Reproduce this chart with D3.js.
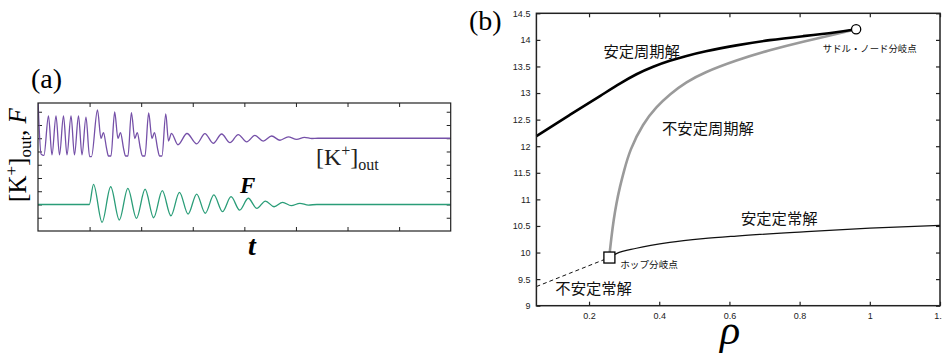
<!DOCTYPE html>
<html><head><meta charset="utf-8">
<script src="https://cdn.jsdelivr.net/npm/d3@7"></script>
<style>body{margin:0;background:#fff}svg{display:block}</style>
</head><body>
<svg id="c" width="942" height="353"></svg>
<script>
// ---------- Panel (a): time series ----------
const kTime = [0.000,0.060,0.115,0.203,0.271,0.349,0.417,0.494,0.562,0.640,0.707,0.785,0.853,0.930,1.000,1.037,1.153,1.221,1.269,1.328,1.366,1.415,1.486,1.550,1.599,1.657,1.696,1.744,1.810,1.876,1.924,1.983,2.025,2.074,2.145,2.209,2.258,2.316,2.355,2.403,2.477,2.529,2.587,2.713,2.888,3.076,3.236,3.397,3.560,3.721,3.882,4.045,4.205,4.366,4.529,4.690,4.851,5.014,5.165,5.310,5.426,8.000];
const kValue = [9.90,5.80,5.70,8.68,5.74,8.68,5.74,8.68,5.74,8.68,5.74,8.68,5.74,8.60,5.62,5.62,9.13,6.98,7.43,6.26,5.66,5.66,8.98,6.98,7.43,6.26,5.66,5.66,8.94,6.98,7.43,6.26,5.66,5.66,8.91,6.98,7.43,6.26,5.66,5.66,8.83,6.79,7.37,6.51,7.36,6.58,7.35,6.62,7.32,6.67,7.28,6.73,7.22,6.79,7.17,6.85,7.11,6.91,7.06,6.98,7.00,7.00];
const fTime = [0,0.995,1.076,1.242,1.409,1.576,1.742,1.909,2.076,2.242,2.409,2.576,2.742,2.909,3.076,3.242,3.409,3.576,3.742,3.909,4.076,4.242,4.409,4.576,4.742,4.909,5.076,5.242,5.407,8];
const fValue = [2,2,3.52,0.66,3.34,0.83,3.22,0.96,3.15,1.00,3.04,1.15,2.92,1.28,2.79,1.34,2.72,1.46,2.59,1.58,2.47,1.71,2.26,1.83,2.16,1.91,2.09,1.96,2.0,2.0];
const aXTicks = [1,2,3,4,5,6,7];
const aYTicks = [1,2,3,4,5,6,7,8,9];

// ---------- Panel (b): bifurcation diagram ----------
const spRho = [0.05,0.145,0.240,0.288,0.335,0.383,0.430,0.478,0.525,0.620,0.715,0.810,0.905,0.961];
const spK   = [12.19,12.59,12.98,13.18,13.36,13.50,13.61,13.70,13.78,13.90,14.00,14.07,14.14,14.20];
const upRho = [0.258,0.264,0.270,0.278,0.288,0.299,0.316,0.354,0.392,0.430,0.478,0.525,0.620,0.715,0.810,0.905,0.961];
const upK   = [9.95,10.30,10.61,10.93,11.24,11.52,11.93,12.43,12.74,12.98,13.21,13.38,13.62,13.81,13.97,14.11,14.20];
const ssRho = [0.258,0.278,0.335,0.430,0.525,0.620,0.810,1.00,1.2];
const ssK   = [9.906,9.98,10.08,10.19,10.26,10.31,10.39,10.46,10.51];
const usRho = [0.05,0.145,0.258];
const usK   = [9.36,9.61,9.906];
const hopfPoint = [0.258, 9.906];
const saddleNodePoint = [0.961, 14.20];
const bXTicks = [0.2,0.4,0.6,0.8,1,1.2];
const bYTicks = [9,9.5,10,10.5,11,11.5,12,12.5,13,13.5,14,14.5];

const svg = d3.select("#c");
const serif = "'Liberation Serif','Times New Roman',serif";
const sans = "'Liberation Sans',Arial,sans-serif";
const cjk = "'Noto Sans CJK JP','Noto Sans',sans-serif";

// ===== Panel (a) =====
const xA = d3.scaleLinear([0,8],[38,450.7]);
const yA = d3.scaleLinear([0,9.66],[231,103]);
const gA = svg.append("g");
gA.append("clipPath").attr("id","clipA").append("rect")
  .attr("x",xA(0)).attr("y",yA(9.66)).attr("width",xA(8)-xA(0)).attr("height",yA(0)-yA(9.66));

function styleAxis(g){
  g.select(".domain").remove();
  g.selectAll(".tick line").attr("stroke","#222").attr("stroke-width",1);
}
gA.append("g").attr("transform",`translate(0,${yA(9.66)})`)
  .call(d3.axisTop(xA).tickValues(aXTicks).tickSize(-4).tickFormat("")).call(styleAxis);
gA.append("g").attr("transform",`translate(0,${yA(0)})`)
  .call(d3.axisBottom(xA).tickValues(aXTicks).tickSize(-4).tickFormat("")).call(styleAxis);
gA.append("g").attr("transform",`translate(${xA(0)},0)`)
  .call(d3.axisLeft(yA).tickValues(aYTicks).tickSize(-4).tickFormat("")).call(styleAxis);
gA.append("g").attr("transform",`translate(${xA(8)},0)`)
  .call(d3.axisRight(yA).tickValues(aYTicks).tickSize(-4).tickFormat("")).call(styleAxis);

const lineA = d3.line().x(d=>xA(d[0])).y(d=>yA(d[1])).curve(d3.curveMonotoneX);
gA.append("path").datum(kTime.map((t,i)=>[t,kValue[i]]))
  .attr("d",lineA).attr("fill","none").attr("stroke","#7550a8").attr("stroke-width",1.3)
  .attr("clip-path","url(#clipA)");
gA.append("path").datum(fTime.map((t,i)=>[t,fValue[i]]))
  .attr("d",lineA).attr("fill","none").attr("stroke","#2a9d78").attr("stroke-width",1.3)
  .attr("clip-path","url(#clipA)");
gA.append("rect").attr("x",xA(0)).attr("y",yA(9.66)).attr("width",xA(8)-xA(0)).attr("height",yA(0)-yA(9.66))
  .attr("fill","none").attr("stroke","#222").attr("stroke-width",1.2);

gA.append("text").attr("x",31).attr("y",88).attr("font-family",serif).attr("font-size",28).text("(a)");
// y label
const yl = gA.append("text").attr("transform","translate(26,155) rotate(-90)")
  .attr("text-anchor","middle").attr("font-family",serif).attr("font-size",25);
yl.append("tspan").text("[K");
yl.append("tspan").attr("font-size",17).attr("dy",-9).text("+");
yl.append("tspan").attr("dy",9).text("]");
yl.append("tspan").attr("font-size",17).attr("dy",5).text("out");
yl.append("tspan").attr("dy",-5).text(", ");
yl.append("tspan").attr("font-style","italic").text("F");
// in-panel labels
const kl = gA.append("text").attr("x",316).attr("y",165).attr("font-family",serif).attr("font-size",24).attr("fill","#222");
kl.append("tspan").text("[K");
kl.append("tspan").attr("font-size",16).attr("dy",-9).text("+");
kl.append("tspan").attr("dy",9).text("]");
kl.append("tspan").attr("font-size",16).attr("dy",5).text("out");
gA.append("text").attr("x",240).attr("y",192.5).attr("font-family",serif).attr("font-size",23)
  .attr("font-style","italic").attr("font-weight","bold").text("F");
gA.append("text").attr("x",xA(4.07)).attr("y",255).attr("font-family",serif).attr("font-size",28)
  .attr("font-style","italic").attr("font-weight","bold").text("t");

// ===== Panel (b) =====
const xB = d3.scaleLinear([0.05,1.2],[536.4,940]);
const yB = d3.scaleLinear([9,14.5],[305.7,13.3]);
const gB = svg.append("g");

function styleAxisB(g){
  g.select(".domain").remove();
  g.selectAll(".tick line").attr("stroke","#222").attr("stroke-width",1.2);
  g.selectAll("text").attr("font-family",sans).attr("font-size",9).attr("fill","#222");
}
gB.append("g").attr("transform",`translate(0,${yB(9)})`)
  .call(d3.axisBottom(xB).tickValues(bXTicks).tickSize(-4).tickPadding(7).tickFormat(d3.format("~g"))).call(styleAxisB);
gB.append("g").attr("transform",`translate(0,${yB(14.5)})`)
  .call(d3.axisTop(xB).tickValues(bXTicks).tickSize(-4).tickFormat("")).call(styleAxisB);
gB.append("g").attr("transform",`translate(${xB(0.05)},0)`)
  .call(d3.axisLeft(yB).tickValues(bYTicks).tickSize(-4).tickPadding(6).tickFormat(d3.format("~g"))).call(styleAxisB);
gB.append("g").attr("transform",`translate(${xB(1.2)},0)`)
  .call(d3.axisRight(yB).tickValues(bYTicks).tickSize(-4).tickFormat("")).call(styleAxisB);

const lineB = d3.line().x(d=>xB(d[0])).y(d=>yB(d[1])).curve(d3.curveBasis);
const lineS = d3.line().x(d=>xB(d[0])).y(d=>yB(d[1])).curve(d3.curveMonotoneX);
const zip = (a,b)=>a.map((v,i)=>[v,b[i]]);
gB.append("path").datum(zip(usRho,usK)).attr("d",d3.line().x(d=>xB(d[0])).y(d=>yB(d[1])))
  .attr("fill","none").attr("stroke","#111").attr("stroke-width",1).attr("stroke-dasharray","4,3");
gB.append("path").datum(zip(ssRho,ssK)).attr("d",lineS)
  .attr("fill","none").attr("stroke","#111").attr("stroke-width",1.2);
gB.append("path").datum(zip(upRho,upK)).attr("d",lineB)
  .attr("fill","none").attr("stroke","#9a9a9a").attr("stroke-width",2.6);
gB.append("path").datum(zip(spRho,spK)).attr("d",lineB)
  .attr("fill","none").attr("stroke","#000").attr("stroke-width",2.6);

gB.append("rect").attr("x",xB(0.05)).attr("y",yB(14.5)).attr("width",xB(1.2)-xB(0.05)).attr("height",yB(9)-yB(14.5))
  .attr("fill","none").attr("stroke","#222").attr("stroke-width",1.5);

gB.append("rect").attr("x",xB(hopfPoint[0])-5.5).attr("y",yB(hopfPoint[1])-5.5).attr("width",11).attr("height",11)
  .attr("fill","#fff").attr("stroke","#000").attr("stroke-width",1.3);
gB.append("circle").attr("cx",xB(saddleNodePoint[0])).attr("cy",yB(saddleNodePoint[1])).attr("r",4.6)
  .attr("fill","#fff").attr("stroke","#000").attr("stroke-width",1.3);

function cjkLabel(rho,k,size,txt){
  gB.append("text").attr("x",xB(rho)).attr("y",yB(k)).attr("dominant-baseline","central")
    .attr("font-family",cjk).attr("font-size",size).attr("fill","#111").text(txt);
}
cjkLabel(0.241,13.81,15.3,"安定周期解");
cjkLabel(0.408,12.37,15.3,"不安定周期解");
cjkLabel(0.633,10.66,15.3,"安定定常解");
cjkLabel(0.104,9.36,15.3,"不安定常解");
cjkLabel(0.866,13.85,9.4,"サドル・ノード分岐点");
cjkLabel(0.289,9.78,9.6,"ホップ分岐点");

gB.append("text").attr("x",469).attr("y",30).attr("font-family",serif).attr("font-size",28).text("(b)");
gB.append("text").attr("x",720).attr("y",344).attr("font-family",serif).attr("font-size",42)
  .attr("font-style","italic").text("ρ");
</script>
</body></html>
